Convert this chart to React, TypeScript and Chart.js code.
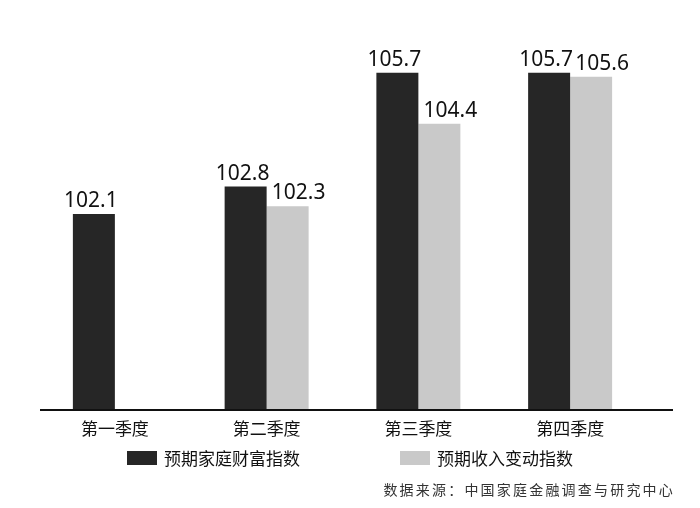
import { useEffect, useRef } from "react";
import { Chart, registerables } from "chart.js";
import type { Plugin } from "chart.js";

Chart.register(...registerables);

const QUARTERS = ["第一季度", "第二季度", "第三季度", "第四季度"];
const WEALTH_INDEX = [102.1, 102.8, 105.7, 105.7];
const INCOME_INDEX: (number | null)[] = [null, 102.3, 104.4, 105.6];
const SERIES_NAMES = ["预期家庭财富指数", "预期收入变动指数"];
const SOURCE = "数据来源：中国家庭金融调查与研究中心";

const DARK = "#262626";
const LIGHT = "#c9c9c9";
const CJK = "'Noto Sans CJK SC', 'Noto Sans', sans-serif";

// value above each bar; the light series is nudged right like the original
const valueLabels: Plugin<"bar"> = {
  id: "valueLabels",
  afterDatasetsDraw(chart) {
    const { ctx } = chart;
    ctx.save();
    ctx.font = "21px 'Noto Sans', sans-serif";
    ctx.fillStyle = "#111";
    ctx.textAlign = "center";
    ctx.textBaseline = "alphabetic";
    chart.data.datasets.forEach((ds, di) => {
      const meta = chart.getDatasetMeta(di);
      meta.data.forEach((bar, i) => {
        const v = ds.data[i] as number | null;
        if (v == null) return;
        const dx = di === 0 ? -3 : 11;
        ctx.fillText(v.toFixed(1), bar.x + dx, bar.y - 7);
      });
    });
    ctx.restore();
  },
};

// baseline runs a bit past the last category
const baseLine: Plugin<"bar"> = {
  id: "baseLine",
  afterDatasetsDraw(chart) {
    const { ctx, chartArea } = chart;
    ctx.save();
    ctx.strokeStyle = "#111";
    ctx.lineWidth = 2;
    ctx.beginPath();
    ctx.moveTo(chartArea.left + 1, chartArea.bottom);
    ctx.lineTo(chart.width - 27, chartArea.bottom);
    ctx.stroke();
    ctx.restore();
  },
};

// legend row + source note under the axis
const footer: Plugin<"bar"> = {
  id: "footer",
  afterDraw(chart) {
    const { ctx } = chart;
    ctx.save();
    ctx.font = `17px ${CJK}`;
    ctx.textBaseline = "middle";
    ctx.textAlign = "left";
    const boxW = 30;
    const boxH = 14;
    const gap = 7;
    const between = 100;
    const widths = chart.data.datasets.map(
      (ds) => boxW + gap + ctx.measureText(ds.label ?? "").width,
    );
    const total = widths.reduce((a, b) => a + b, 0) + between;
    let x = (chart.width - total) / 2;
    const y = 458;
    chart.data.datasets.forEach((ds, i) => {
      ctx.fillStyle = ds.backgroundColor as string;
      ctx.fillRect(x, y - boxH / 2, boxW, boxH);
      ctx.fillStyle = "#111";
      ctx.fillText(ds.label ?? "", x + boxW + gap, y + 1);
      x += widths[i] + between;
    });

    ctx.font = `14px ${CJK}`;
    (ctx as any).letterSpacing = "2.2px";
    ctx.fillStyle = "#333";
    ctx.textAlign = "right";
    ctx.fillText(SOURCE, chart.width - 25, 490);
    ctx.restore();
  },
};

export default function App() {
  const canvasRef = useRef<HTMLCanvasElement>(null);

  useEffect(() => {
    document.body.style.margin = "0";
    if (!canvasRef.current) return;

    const chart = new Chart(canvasRef.current, {
      type: "bar",
      data: {
        labels: QUARTERS,
        datasets: [
          {
            label: SERIES_NAMES[0],
            data: WEALTH_INDEX,
            backgroundColor: DARK,
            borderWidth: 0,
          },
          {
            label: SERIES_NAMES[1],
            data: INCOME_INDEX,
            backgroundColor: LIGHT,
            borderWidth: 0,
          },
        ],
      },
      options: {
        responsive: true,
        maintainAspectRatio: false,
        animation: false,
        layout: { padding: { left: 39, right: 54, top: 41.5, bottom: 69.5 } },
        datasets: {
          bar: { categoryPercentage: 0.5535, barPercentage: 1 },
        },
        plugins: {
          legend: { display: false },
          tooltip: { enabled: false },
        },
        scales: {
          x: {
            grid: { display: false },
            border: { display: false },
            ticks: {
              padding: 0,
              color: "#111",
              font: { family: CJK, size: 17 },
              maxRotation: 0,
            },
          },
          y: {
            display: false,
            min: 97.1,
            max: 106.5,
          },
        },
      },
      plugins: [baseLine, valueLabels, footer],
    });

    return () => chart.destroy();
  }, []);

  return (
    <div style={{ position: "relative", width: "700px", height: "508px", background: "#fff" }}>
      <canvas ref={canvasRef} />
    </div>
  );
}
